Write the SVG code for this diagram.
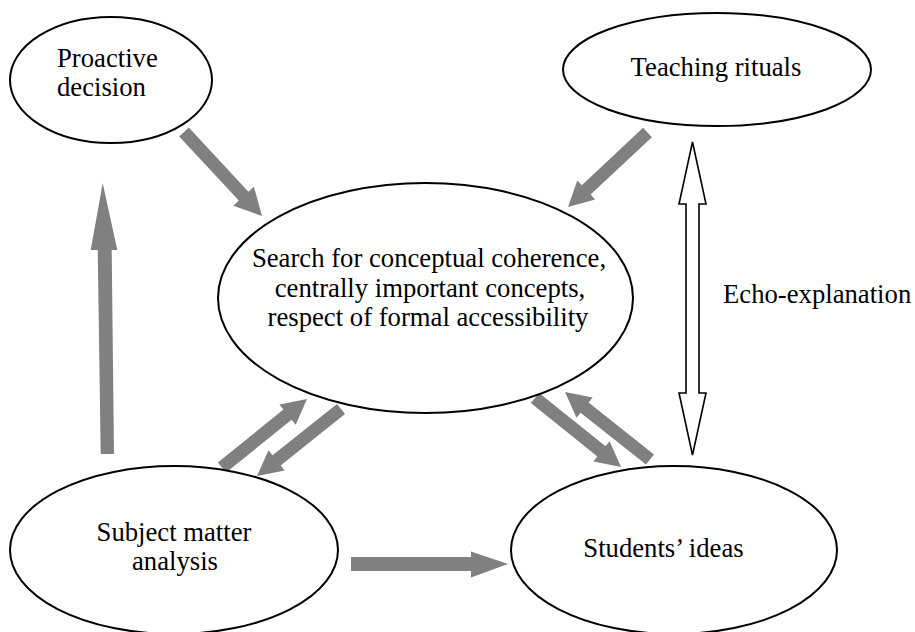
<svg xmlns="http://www.w3.org/2000/svg" width="915" height="632" viewBox="0 0 915 632">
<style>
.node ellipse{fill:#fff;stroke:#000;stroke-width:2}
text{font-family:"Liberation Serif","Times New Roman",serif;font-size:26.7px;fill:#000}
.c{text-anchor:middle}
.g{fill:#808080;stroke:none}
.w{fill:#fff;stroke:#000;stroke-width:1.6;stroke-linejoin:miter}
</style>
<rect width="915" height="632" fill="#fff"/>
<g id="connectors">
<polygon class="g" points="179.2,136.4 238.8,200.6 233.3,205.7 262,216 253.9,186.7 248.4,191.8 188.8,127.6"/>
<polygon class="g" points="643.1,127.8 581.8,185.2 577.3,180.4 568,207 595.1,199.4 590.6,194.6 651.9,137.2"/>
<polygon class="g" points="226.1,472.6 291.6,419.8 295.7,424.8 307,399 279.4,404.6 283.4,409.6 217.9,462.4"/>
<polygon class="g" points="337,403.9 272.5,455.3 268.5,450.2 257,476 284.7,470.6 280.6,465.5 345,414.1"/>
<polygon class="g" points="530.9,403.1 597.4,456.4 593.4,461.5 621,467 609.6,441.2 605.6,446.3 539.1,392.9"/>
<polygon class="g" points="654,454.4 588.6,402.5 592.7,397.4 565,392 576.5,417.7 580.6,412.7 646,464.6"/>
<polygon class="g" points="100.7,454 114,454 111.7,250 117.3,250 102.7,183 90.7,250 97.7,250"/>
<polygon class="g" points="351,557 471,557 471,551.5 508,564 471,577.5 471,571 351,571"/>
<polygon class="w" points="692.5,142 706,204 699,204 699,393 706,393 692.5,455 679,393 686,393 686,204 679,204"/>
<text x="723" y="303">Echo-explanation</text>
</g>
<g id="proactive" class="node">
<ellipse cx="111" cy="80" rx="101" ry="63"/>
<text x="57" y="67">Proactive</text>
<text x="57" y="96">decision</text>
</g>
<g id="teaching" class="node">
<ellipse cx="717" cy="69.5" rx="154" ry="56.5"/>
<text class="c" x="716" y="76">Teaching rituals</text>
</g>
<g id="search" class="node">
<ellipse cx="425.5" cy="298" rx="207.5" ry="115"/>
<text class="c" x="429" y="267">Search for conceptual coherence,</text>
<text class="c" x="430" y="297">centrally important concepts,</text>
<text class="c" x="428" y="326">respect of formal accessibility</text>
</g>
<g id="subject" class="node">
<ellipse cx="174" cy="550" rx="164" ry="84"/>
<text class="c" x="174" y="540.5">Subject matter</text>
<text class="c" x="175" y="570">analysis</text>
</g>
<g id="students" class="node">
<ellipse cx="674" cy="550" rx="163" ry="84"/>
<text class="c" x="663.5" y="557">Students’ ideas</text>
</g>
</svg>
